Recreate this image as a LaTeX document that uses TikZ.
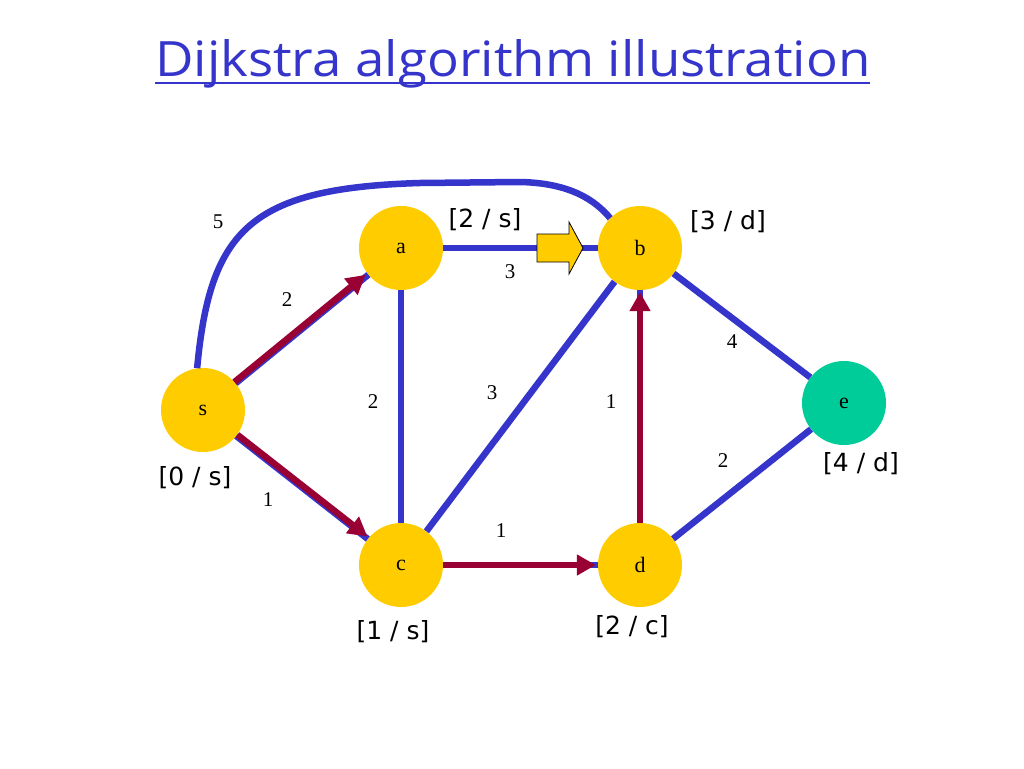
\documentclass[tikz,border=0pt]{standalone}
\usepackage{fontspec}
\setmainfont{Liberation Serif}
\newfontfamily\labfont{DejaVu Sans}
\newfontfamily\titlefont{Open Sans}
\usetikzlibrary{arrows.meta}
\definecolor{eblue}{HTML}{3535CC}
\definecolor{ered}{HTML}{990033}
\definecolor{nyel}{HTML}{FFCC00}
\definecolor{ngreen}{HTML}{00CC99}
\begin{document}
\begin{tikzpicture}[x=1pt,y=-1pt,
  vert/.style={circle,fill=nyel,minimum size=84pt,inner sep=0pt,font=\fontsize{22}{22}\selectfont},
  bedge/.style={draw=eblue,line width=6.5pt},
  redge/.style={draw=ered,line width=6.5pt,shorten >=2pt,-{Triangle[length=19pt,width=20pt]}},
  wlab/.style={font=\fontsize{21}{21}\selectfont},
  dlab/.style={font=\labfont\fontsize{25}{25}\selectfont}]
\useasboundingbox[fill=white] (0,0) rectangle (1024,768);

% title
\node[text=eblue,anchor=base west,inner sep=0pt] (title) at (155,77)
  {\resizebox{715pt}{37pt}{\titlefont Dijkstra algorithm illustration}};
\draw[eblue,line width=2pt] (155,83) -- (870,83);

% vertices
\node[vert] (s) at (203,410) {s};
\node[vert] (a) at (401,248) {a};
\node[vert] (b) at (640,248) {b};
\node[vert] (c) at (401,565) {c};
\node[vert] (d) at (640,565) {d};
\node[vert,fill=ngreen] (e) at (844,403) {e};

% blue edges
\draw[bedge] (s.98) .. controls (210,230) and (250,188) .. (420,183)
  -- (520,182) .. controls (570,183) and (595,200) .. (b.135);
\draw[bedge] (s) -- (a);
\draw[bedge] (s) -- (c);
\draw[bedge] (a) -- (b);
\draw[bedge] (a) -- (c);
\draw[bedge] (c) -- (b);
\draw[bedge] (c) -- (d);
\draw[bedge] (d) -- (b);
\draw[bedge] (b) -- (e);
\draw[bedge] (d) -- (e);

% shortest-path tree (red)
\draw[redge,transform canvas={shift={(-1.2pt,1.2pt)}}] (s) -- (a);
\draw[redge,transform canvas={shift={(1.2pt,1.2pt)}}] (s) -- (c);
\draw[redge] (c) -- (d);
\draw[redge] (d) -- (b);

% block arrow
\draw[fill=nyel,draw=black,line width=0.8pt,line join=miter]
  (537,234) -- (569,234) -- (569,222) -- (583,248) -- (569,274) -- (569,262) -- (537,262) -- cycle;

% weights
\node[wlab] (w5) at (218,222) {5};
\node[wlab] (wsa) at (287,300) {2};
\node[wlab] (wab) at (510,272) {3};
\node[wlab] (wac) at (373,402) {2};
\node[wlab] (wcb) at (492,393) {3};
\node[wlab] (wdb) at (611,402) {1};
\node[wlab] (wbe) at (732,342) {4};
\node[wlab] (wde) at (723,461) {2};
\node[wlab] (wsc) at (268,500) {1};
\node[wlab] (wcd) at (501,531) {1};

% distance labels
\node[dlab] (ls) at (195,478) {[0 / s]};
\node[dlab] (la) at (485,220) {[2 / s]};
\node[dlab] (lb) at (728,222) {[3 / d]};
\node[dlab] (lc) at (393,632) {[1 / s]};
\node[dlab] (ld) at (632,627) {[2 / c]};
\node[dlab] (le) at (861,464) {[4 / d]};
\end{tikzpicture}
\end{document}
